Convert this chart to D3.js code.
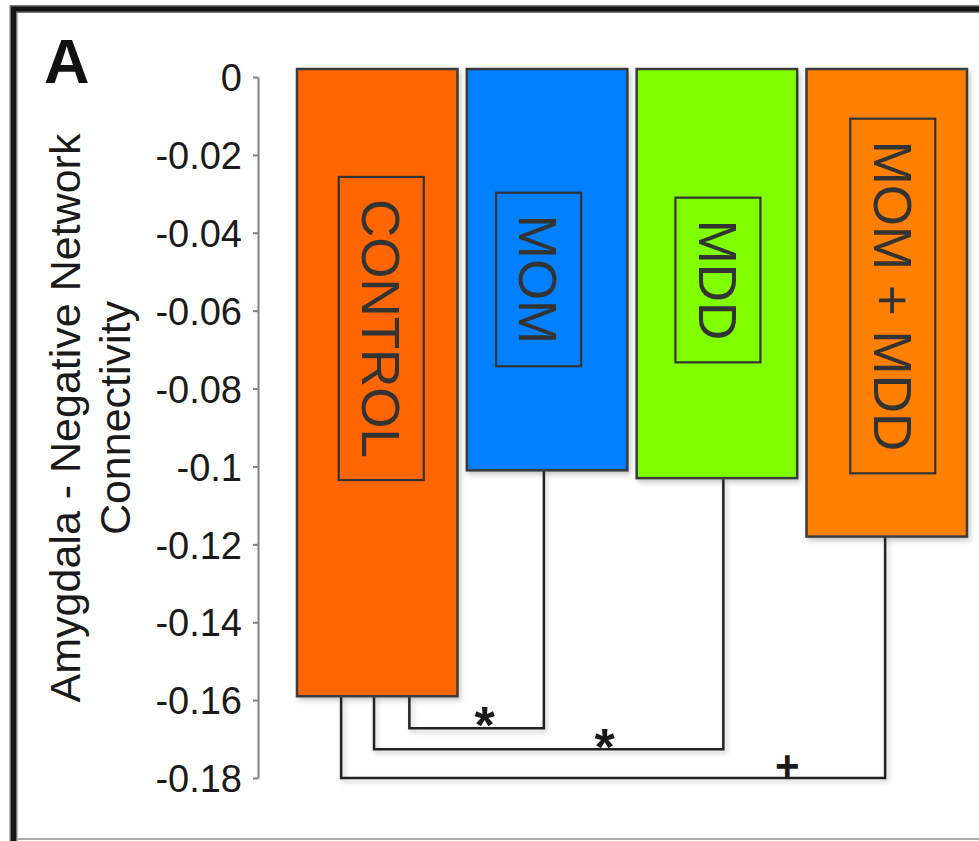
<!DOCTYPE html>
<html>
<head>
<meta charset="utf-8">
<script src="https://cdn.jsdelivr.net/npm/d3@7"></script>
<style>
  html, body { margin: 0; padding: 0; background: #fff; }
  svg { display: block; }
  text { font-family: "Liberation Sans", Arial, Helvetica, sans-serif; }
</style>
</head>
<body>
<svg id="chart" width="979" height="841"></svg>
<script>
// Group means of amygdala – negative network connectivity
const categories = ["CONTROL", "MOM", "MDD", "MOM + MDD"];
const values = [-0.159, -0.101, -0.103, -0.118];
const barColors = ["#FF6600", "#0080FF", "#80FF00", "#FF8000"];

// Y axis ticks
const tickValues = [0, -0.02, -0.04, -0.06, -0.08, -0.1, -0.12, -0.14, -0.16, -0.18];
const tickLabels = ["0", "-0.02", "-0.04", "-0.06", "-0.08", "-0.1", "-0.12", "-0.14", "-0.16", "-0.18"];

// Pairwise comparisons against CONTROL (bracket level in data units)
const compFrom = ["CONTROL", "CONTROL", "CONTROL"];
const compTo = ["MOM", "MDD", "MOM + MDD"];
const compMarks = ["*", "*", "+"];
const compLevels = [-0.1672, -0.1726, -0.18];

// Drawing layout for brackets and in-bar label boxes
const bracketLayout = [
  { fromFrac: 0.70, toFrac: 0.48, markAt: 0.56, markSize: 52, markRise: 15 },
  { fromFrac: 0.48, toFrac: 0.54, markAt: 0.66, markSize: 52, markRise: 14 },
  { fromFrac: 0.275, toFrac: 0.49, markAt: 0.82, markSize: 42, markRise: 13 }
];
const labelLayout = [
  { dx: 4, cy: 328.5 },
  { dx: -8.5, cy: 279.5 },
  { dx: 1, cy: 280 },
  { dx: 6, cy: 296 }
];

const svg = d3.select("#chart");

// soft drop shadow under bars and brackets
const defs = svg.append("defs");
const f = defs.append("filter").attr("id", "shadow")
  .attr("x", "-10%").attr("y", "-10%").attr("width", "130%").attr("height", "130%");
f.append("feDropShadow").attr("dx", 2).attr("dy", 3).attr("stdDeviation", 2.5)
  .attr("flood-color", "#000").attr("flood-opacity", 0.22);

// panel frame
svg.append("path")
  .attr("d", "M979,9 H13.5 V841")
  .attr("fill", "none").attr("stroke", "#777").attr("stroke-width", 8);
svg.append("path")
  .attr("d", "M979,9 H13.5 V841")
  .attr("fill", "none").attr("stroke", "#151515").attr("stroke-width", 5);
svg.append("line")
  .attr("x1", 17).attr("x2", 979).attr("y1", 839).attr("y2", 839)
  .attr("stroke", "#aaa").attr("stroke-width", 2);

// panel letter
svg.append("text")
  .attr("x", 44).attr("y", 83)
  .attr("font-size", 63).attr("font-weight", "bold").attr("fill", "#111")
  .text("A");

// scales
const y = d3.scaleLinear().domain([0, -0.18]).range([77, 778]);
const x = d3.scaleBand().domain(categories).range([297, 967]).paddingInner(0.055);
const barTopOverhang = 8; // bars start slightly above the zero line

// y axis
const axis = d3.axisLeft(y)
  .tickValues(tickValues)
  .tickFormat((d, i) => tickLabels[i])
  .tickSize(5)
  .tickSizeOuter(0)
  .tickPadding(11);
const gAxis = svg.append("g").attr("transform", "translate(258,0)").call(axis);
gAxis.select(".domain").attr("stroke", "#808080").attr("stroke-width", 2);
gAxis.selectAll(".tick line").attr("stroke", "#808080").attr("stroke-width", 2);
gAxis.selectAll(".tick text")
  .attr("font-size", 38).attr("fill", "#1a1a1a")
  .attr("font-family", "'Liberation Sans', Arial, sans-serif")
  .attr("dy", "0.36em");

// y axis title (two lines)
const title = svg.append("text")
  .attr("transform", "translate(80,418) rotate(-90)")
  .attr("text-anchor", "middle")
  .attr("font-size", 43).attr("fill", "#1a1a1a");
title.append("tspan").attr("x", 0).attr("y", 0).text("Amygdala - Negative Network");
title.append("tspan").attr("x", 0).attr("y", 50).text("Connectivity");

// bars
const data = categories.map((c, i) => ({ cat: c, value: values[i], color: barColors[i], layout: labelLayout[i] }));
const gBars = svg.append("g");
gBars.selectAll("rect.bar").data(data).join("rect")
  .attr("class", "bar")
  .attr("x", d => x(d.cat))
  .attr("y", y(0) - barTopOverhang)
  .attr("width", x.bandwidth())
  .attr("height", d => y(d.value) - y(0) + barTopOverhang)
  .attr("fill", d => d.color)
  .attr("stroke", "#3a3a3a").attr("stroke-width", 2.5)
  .attr("filter", "url(#shadow)");

// boxed vertical labels inside the bars
const gLabels = svg.append("g");
data.forEach(d => {
  const cx = x(d.cat) + x.bandwidth() / 2 + d.layout.dx;
  const cy = d.layout.cy;
  const g = gLabels.append("g");
  const t = g.append("text")
    .attr("transform", `translate(${cx},${cy}) rotate(90)`)
    .attr("text-anchor", "middle")
    .attr("dy", "0.36em")
    .attr("font-size", 53).attr("fill", "#333")
    .text(d.cat);
  const len = t.node().getComputedTextLength();
  const h = len + 44, w = 85;
  g.insert("rect", "text")
    .attr("x", cx - w / 2).attr("y", cy - h / 2)
    .attr("width", w).attr("height", h)
    .attr("fill", "none").attr("stroke", "#333").attr("stroke-width", 2.2);
});

// significance brackets
const byCat = new Map(data.map(d => [d.cat, d]));
const gBr = svg.append("g");
compFrom.forEach((fromCat, i) => {
  const L = bracketLayout[i];
  const a = byCat.get(fromCat), b = byCat.get(compTo[i]);
  const x1 = x(a.cat) + L.fromFrac * x.bandwidth();
  const x2 = x(b.cat) + L.toFrac * x.bandwidth();
  const yl = y(compLevels[i]);
  gBr.append("path")
    .attr("d", `M${x1},${y(a.value) + 1} V${yl} H${x2} V${y(b.value) + 1}`)
    .attr("fill", "none").attr("stroke", "#222").attr("stroke-width", 2.5)
    .attr("filter", "url(#shadow)");
  const mx = x1 + L.markAt * (x2 - x1);
  const isStar = compMarks[i] === "*";
  gBr.append("text")
    .attr("x", mx)
    .attr("y", isStar ? yl - L.markRise + 0.58 * L.markSize : yl - L.markRise + 0.35 * L.markSize)
    .attr("text-anchor", "middle")
    .attr("font-size", L.markSize)
    .attr("font-weight", "bold")
    .attr("fill", "#1a1a1a")
    .text(compMarks[i]);
});
</script>
</body>
</html>
